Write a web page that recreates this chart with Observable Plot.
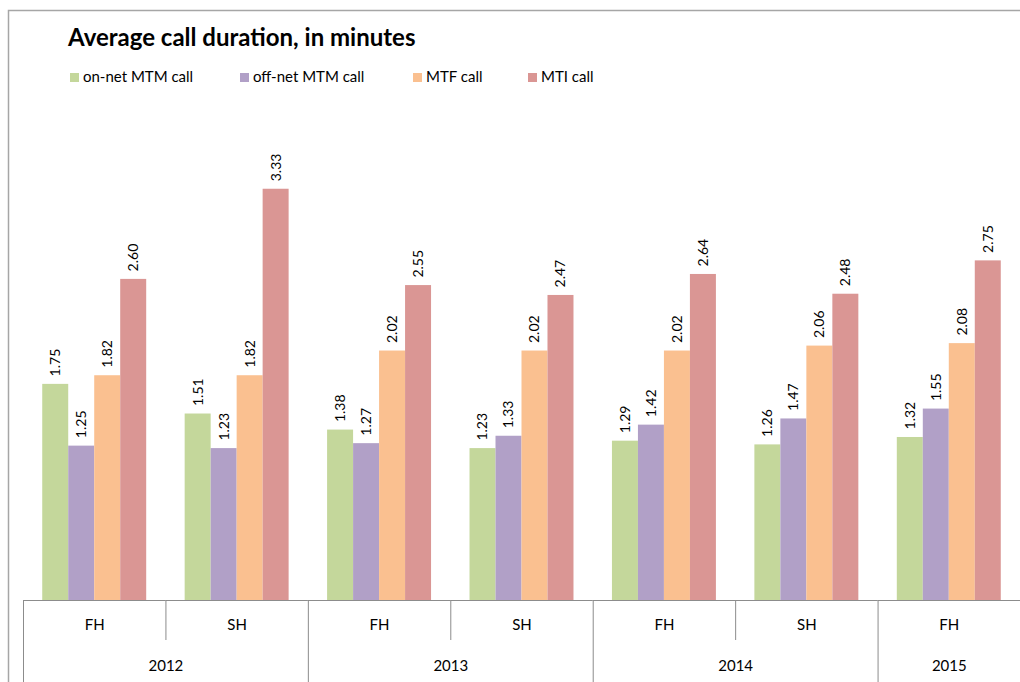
<!DOCTYPE html>
<html>
<head>
<meta charset="utf-8">
<script src="https://cdn.jsdelivr.net/npm/d3@7"></script>
<script src="https://cdn.jsdelivr.net/npm/@observablehq/plot@0.6"></script>
<style>
  html, body { margin: 0; padding: 0; background: #fff; }
  #chart { width: 1020px; height: 682px; overflow: hidden; }
  svg { font-family: Lato, "Open Sans", sans-serif; }
</style>
</head>
<body>
<div id="chart"></div>
<script>
// Half-year periods along the bottom axis
const groupYears  = ["2012", "2012", "2013", "2013", "2014", "2014", "2015"];
const groupHalves = ["FH", "SH", "FH", "SH", "FH", "SH", "FH"];

// Call types and their colours
const series = ["on-net MTM call", "off-net MTM call", "MTF call", "MTI call"];
const colors = ["#c4d79b", "#b1a0c7", "#fac090", "#da9694"];

// Average call duration (minutes) per period
const onNetMTM  = [1.75, 1.51, 1.38, 1.23, 1.29, 1.26, 1.32];
const offNetMTM = [1.25, 1.23, 1.27, 1.33, 1.42, 1.47, 1.55];
const mtfCall   = [1.82, 1.82, 2.02, 2.02, 2.02, 2.06, 2.08];
const mtiCall   = [2.60, 3.33, 2.55, 2.47, 2.64, 2.48, 2.75];

const title = "Average call duration, in minutes";

// Tidy tables built from the arrays above
const groups = groupYears.map((year, i) => ({
  key: year + " " + groupHalves[i],
  year,
  half: groupHalves[i],
  first: i === 0 || groupYears[i - 1] !== year,
  spans: groupYears.filter(y => y === year).length
}));
const valuesBySeries = [onNetMTM, offNetMTM, mtfCall, mtiCall];
const rows = [];
groups.forEach((g, i) => {
  series.forEach((s, j) => rows.push({group: g.key, series: s, value: valuesBySeries[j][i]}));
});

const W = 1020, H = 682;
const marginLeft = 23, marginRight = 0, marginTop = 106, marginBottom = 82;
const paddingOuter = 0.74;
const facetWidth = (W - marginLeft - marginRight) / groups.length;
const barStep = facetWidth / (series.length + 2 * paddingOuter);
// offset from the centre of the first bar back to the left edge of its period
const edgeOffset = -(paddingOuter * barStep + barStep / 2);
const frameHeight = H - marginTop - marginBottom;
const lineColor = "#8c8c8c";

const chart = Plot.plot({
  width: W,
  height: H,
  marginLeft, marginRight, marginTop, marginBottom,
  style: {fontFamily: "Lato, 'Open Sans', sans-serif", background: "#fff", overflow: "visible"},
  fx: {domain: groups.map(g => g.key), padding: 0, round: false, axis: null},
  x: {domain: series, paddingInner: 0, paddingOuter, round: false, axis: null},
  y: {domain: [0, 4], axis: null},
  color: {domain: series, range: colors},
  marks: [
    // bars
    Plot.barY(rows, {fx: "group", x: "series", y: "value", fill: "series", inset: 0}),
    // rotated value labels
    Plot.text(rows, {
      fx: "group", x: "series", y: "value",
      text: d => d.value.toFixed(2),
      rotate: -90, textAnchor: "start", dy: -8,
      fontSize: 14, fill: "#000"
    }),
    // baseline of the category table
    Plot.ruleY([0], {stroke: lineColor, strokeWidth: 1}),
    // separators between halves (short) and between years (long)
    Plot.ruleX(groups.filter(g => !g.first), {
      fx: "key", x: () => series[0], dx: edgeOffset,
      insetTop: frameHeight, insetBottom: -40, stroke: lineColor
    }),
    Plot.ruleX(groups.filter(g => g.first), {
      fx: "key", x: () => series[0], dx: edgeOffset,
      insetTop: frameHeight, insetBottom: -90, stroke: lineColor
    }),
    // half-year labels
    Plot.text(groups, {fx: "key", text: "half", frameAnchor: "bottom", dy: 29, fontSize: 15, fill: "#000"}),
    // year labels, centred under their halves
    Plot.text(groups.filter(g => g.first && g.spans === 2), {
      fx: "key", text: "year", frameAnchor: "bottom-right", textAnchor: "middle", dy: 70, fontSize: 15, fill: "#000"
    }),
    Plot.text(groups.filter(g => g.first && g.spans === 1), {
      fx: "key", text: "year", frameAnchor: "bottom", dy: 70, fontSize: 15, fill: "#000"
    })
  ]
});

document.getElementById("chart").appendChild(chart);

// Chart border, title and legend
const svg = d3.select(chart);
svg.insert("rect", ":first-child")
  .attr("x", 8.5).attr("y", 10.5).attr("width", 1040).attr("height", 700)
  .attr("fill", "none").attr("stroke", "#a6a6a6").attr("stroke-width", 1.5);

svg.append("text")
  .attr("x", 68).attr("y", 46)
  .attr("text-anchor", "start")
  .attr("font-size", 24).attr("font-weight", "bold").attr("fill", "#000")
  .text(title);

const legendX = [70, 240, 413, 528];
const legend = svg.append("g").attr("text-anchor", "start");
series.forEach((s, i) => {
  legend.append("rect")
    .attr("x", legendX[i]).attr("y", 73).attr("width", 9).attr("height", 9)
    .attr("fill", colors[i]);
  legend.append("text")
    .attr("x", legendX[i] + 13).attr("y", 82)
    .attr("font-size", 15).attr("fill", "#000")
    .text(s);
});
</script>
</body>
</html>
